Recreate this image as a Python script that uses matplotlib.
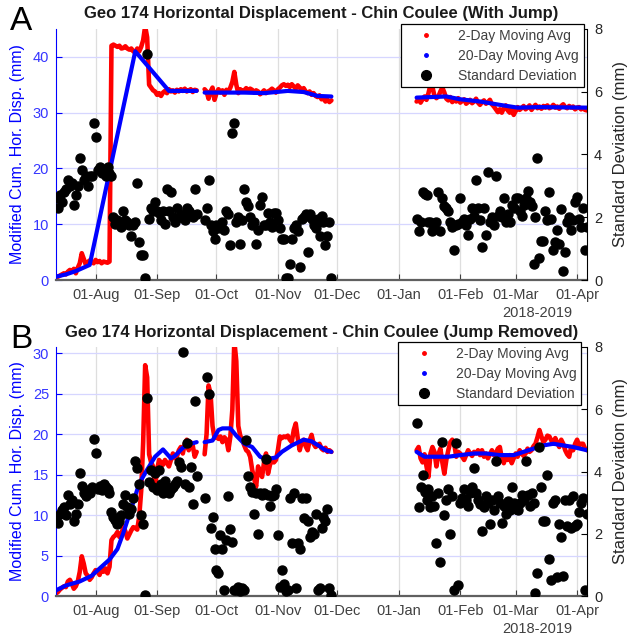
import pandas as pd
import matplotlib
matplotlib.use('Agg')
import matplotlib.pyplot as plt
import matplotlib.dates as mdates
from matplotlib.lines import Line2D

plt.rcParams['font.family'] = ['Liberation Sans', 'DejaVu Sans']

# three observation periods, one value per day from each start date
seg_starts = ['2018-07-12', '2018-09-25', '2019-01-10']

# ---------------- Panel A (with jump) ----------------
a_red = [
    [0.5, 0.6, 0.8, 1.0, 1.2, 1.0, 1.5, 1.8, 1.5, 2.0,
     1.2, 2.2, 3.0, 4.8, 3.8, 2.8, 3.2, 3.5, 3.2, 3.0,
     3.6, 3.2, 3.4, 3.0, 3.3, 3.2, 3.1, 3.3, 42.0, 42.2,
     42.0, 41.8, 42.0, 41.5, 41.6, 41.9, 41.5, 41.3, 41.5, 41.0,
     40.8, 41.5, 41.0, 41.8, 43.0, 45.5, 43.5, 35.0, 34.5, 34.0,
     33.8, 33.2, 33.5, 33.0, 33.6, 33.9, 33.5, 34.2, 33.8, 34.0,
     33.6, 34.1, 33.8, 34.2, 33.9, 34.3, 33.8, 34.0, 34.2, 33.7,
     34.1, 34.0],
    [34.2, 33.8, 32.5, 33.8, 34.5, 32.3, 33.5, 34.2, 33.6, 34.0,
     33.2, 34.1, 33.8, 34.5, 35.5, 37.3, 35.0, 33.5, 34.2, 33.8,
     34.0, 34.4, 33.9, 34.3, 34.1, 33.6, 34.0, 33.8, 33.3, 33.6,
     34.0, 33.5, 33.8, 34.0, 34.3, 34.0, 33.6, 34.2, 34.5, 34.9,
     35.1, 34.8, 35.0, 34.6, 35.1, 34.7, 34.3, 34.9, 34.5, 34.0,
     34.4, 33.8, 33.5, 33.8, 33.2, 33.5, 33.0, 32.8, 33.1, 32.4,
     32.6, 32.0, 32.3, 31.9, 32.2],
    [32.0, 32.5, 31.8, 32.4, 32.9, 32.3, 33.5, 35.0, 34.6, 33.0,
     32.6, 32.9, 33.8, 34.5, 33.6, 32.5, 32.2, 32.8, 31.9, 32.3,
     32.0, 32.6, 31.8, 32.1, 32.4, 31.6, 31.9, 32.3, 31.7, 32.0,
     32.5, 31.8, 31.4, 31.9, 32.2, 31.6, 31.9, 32.3, 31.5, 31.1,
     30.6, 30.1, 30.6, 30.0, 30.8, 31.3, 30.4, 30.0, 30.7, 29.6,
     30.3, 31.0, 30.5, 30.8, 31.2, 30.6, 30.9, 31.3, 30.5, 31.0,
     31.4, 30.8, 31.1, 30.7, 31.2, 30.9, 31.3, 30.8, 31.0, 31.4,
     30.9, 31.1, 30.7, 31.2, 31.5, 31.0, 30.8, 31.2, 30.9, 31.1,
     30.6, 30.9, 31.0, 30.6, 30.8, 30.5, 30.4],
]
a_blue_dates = [
    ['2018-07-12', '2018-07-17', '2018-07-22', '2018-07-29', '2018-08-21', '2018-09-07', '2018-09-21'],
    ['2018-09-25', '2018-10-15', '2018-10-25', '2018-11-06', '2018-11-14', '2018-11-21', '2018-11-28'],
    ['2019-01-10', '2019-01-25', '2019-02-01', '2019-02-11', '2019-02-21', '2019-03-02', '2019-03-13', '2019-04-06'],
]
a_blue = [
    [0.6, 1.0, 1.6, 2.7, 41.0, 33.9, 33.9],
    [33.6, 33.6, 33.5, 33.9, 33.7, 33.0, 32.9],
    [32.7, 32.9, 32.4, 32.0, 31.4, 30.9, 31.0, 30.9],
]
a_std = [
    [2.6, 2.3, 2.7, 2.5, 2.8, 2.9, 3.2, 3.0, 3.1, 2.4,
     2.7, 3.0, 3.9, 3.5, 3.2, 3.3, 3.0, 3.3, 3.3, 5.0,
     4.55, 3.5, 3.6, 3.4, 3.5, 3.3, 3.6, 3.4, 3.3, 2.0,
     1.8, 1.9, 1.85, 1.7, 2.2, 1.9, 1.85, 1.75, 1.4, 1.75,
     1.85, 3.1, 1.2, 0.8, 0.8, 0.05, 7.2, 1.95, 2.3, 2.2,
     2.5, 2.2, 2.15, 1.9, 2.2, 1.8, 2.9, 2.2, 2.8, 2.0,
     1.85, 2.3, 2.0, 2.0, 2.1, 1.9, 2.3, 2.2, 2.1, 2.0,
     2.9, 2.1],
    [1.9, 2.3, 3.2, 1.75, 1.55, 1.3, 1.75, 1.65, 1.75, 1.85,
     1.6, 2.2, 2.1, 1.1, 4.7, 5.0, 1.85, 2.0, 1.15, 1.9,
     2.9, 2.5, 2.35, 2.0, 1.75, 1.85, 1.15, 1.6, 2.4, 2.65,
     1.75, 1.75, 2.15, 1.85, 1.7, 2.15, 2.15, 1.9, 1.65, 1.3,
     1.3, 0.05, 0.05, 0.5, 1.3, 1.65, 1.75, 1.55, 0.4, 1.95,
     2.0, 2.1, 0.9, 2.1, 1.95, 1.75, 1.65, 1.95, 1.4, 2.05,
     1.85, 1.1, 1.4, 1.85, 0.05],
    [1.95, 1.55, 1.85, 2.8, 2.75, 2.7, 1.85, 1.85, 1.55, 1.7,
     1.85, 2.8, 1.55, 2.6, 2.35, 2.3, 2.2, 1.85, 1.7, 0.95,
     1.75, 1.8, 2.6, 1.85, 1.95, 1.75, 1.45, 1.95, 2.3, 2.05,
     3.2, 2.3, 1.9, 1.05, 2.3, 1.45, 3.45, 1.85, 2.0, 1.75,
     3.3, 2.05, 2.2, 2.0, 2.6, 1.85, 2.1, 1.85, 2.4, 2.3,
     2.6, 2.6, 2.2, 2.05, 2.4, 2.6, 2.85, 2.5, 2.35, 0.5,
     2.0, 3.9, 0.7, 1.25, 1.25, 2.2, 1.9, 2.8, 1.95, 0.95,
     1.2, 1.6, 1.15, 2.25, 0.3, 0.9, 1.85, 2.0, 1.6, 1.9,
     2.5, 2.65, 1.95, 1.7, 2.3, 0.95, 1.7],
]

# ---------------- Panel B (jump removed) ----------------
b_red = [
    [0.3, 0.5, 0.8, 1.0, 1.2, 1.1, 1.8, 2.0, 1.5, 0.9,
     1.2, 1.8, 3.0, 4.9, 4.0, 2.8, 2.5, 2.0, 2.3, 2.8,
     3.2, 3.0, 2.6, 3.4, 3.0, 3.4, 2.8, 3.6, 6.9, 7.3,
     7.5, 7.9, 7.3, 7.6, 8.6, 8.0, 7.1, 7.6, 8.1, 8.5,
     8.4, 8.2, 9.8, 13.0, 19.0, 28.5, 27.0, 17.5, 16.5, 16.0,
     13.5, 15.5, 16.8, 16.5, 16.2, 16.8, 16.4, 16.0, 16.8, 17.6,
     17.0, 17.2, 18.0, 18.4, 17.6, 18.8, 19.3, 18.0, 19.0, 18.6,
     17.2, 17.8],
    [17.5, 20.0, 26.0, 25.0, 21.0, 19.5, 19.8, 19.4, 19.7, 19.0,
     19.6, 19.3, 18.0, 19.7, 23.0, 31.5, 29.0, 21.0, 19.8, 19.3,
     18.6, 18.0, 17.8, 17.2, 15.6, 14.5, 13.5, 16.0, 15.2, 14.7,
     16.5, 17.6, 15.1, 16.2, 16.8, 16.5, 16.8, 18.0, 19.7, 19.5,
     19.7, 19.6, 19.8, 19.3, 19.0, 20.5, 21.3, 19.5, 18.0, 19.0,
     19.3, 18.5, 18.0, 19.2, 19.9, 18.8, 18.4, 18.6, 18.8, 18.2,
     18.0, 18.3, 17.8, 18.0, 17.8],
    [18.0, 18.4, 17.0, 16.5, 17.5, 16.0, 14.7, 17.6, 18.4, 17.8,
     16.0, 17.5, 18.2, 16.5, 15.1, 16.8, 18.0, 19.0, 19.3, 18.8,
     17.2, 17.8, 17.6, 17.2, 16.8, 17.4, 18.0, 17.6, 17.3, 17.8,
     17.6, 18.0, 17.4, 18.0, 17.2, 17.6, 17.0, 17.5, 18.0, 17.4,
     17.6, 18.2, 18.4, 17.0, 16.4, 17.2, 16.8, 17.4, 16.4, 17.0,
     17.6, 17.2, 18.0, 17.6, 17.3, 17.6, 18.2, 17.8, 18.0, 18.5,
     18.8, 19.6, 20.5, 19.7, 19.0, 19.3, 19.8, 19.7, 19.2, 18.8,
     19.5, 18.9, 18.4, 19.3, 18.8, 18.0, 17.5, 17.2, 18.4, 18.0,
     18.8, 19.3, 18.6, 18.8, 18.8, 18.2, 18.0],
]
b_blue_dates = [
    ['2018-07-12', '2018-07-17', '2018-07-24', '2018-07-30', '2018-08-03', '2018-08-08', '2018-08-12',
     '2018-08-15', '2018-08-19', '2018-08-23', '2018-08-27', '2018-08-31', '2018-09-04', '2018-09-08',
     '2018-09-10', '2018-09-14', '2018-09-18', '2018-09-21'],
    ['2018-09-25', '2018-09-29', '2018-10-02', '2018-10-04', '2018-10-08', '2018-10-11', '2018-10-15',
     '2018-10-19', '2018-10-23', '2018-10-26', '2018-10-31', '2018-11-03', '2018-11-08', '2018-11-14',
     '2018-11-18', '2018-11-22', '2018-11-25', '2018-11-28'],
    ['2019-01-10', '2019-01-14', '2019-01-20', '2019-01-26', '2019-02-01', '2019-02-08', '2019-02-14',
     '2019-02-21', '2019-02-28', '2019-03-05', '2019-03-10', '2019-03-15', '2019-03-20', '2019-03-25',
     '2019-03-30', '2019-04-06'],
]
b_blue = [
    [0.7, 1.3, 1.8, 2.5, 3.4, 4.5, 5.8, 7.8, 10.8, 13.9, 15.6, 17.2, 18.1, 17.0, 17.3, 18.3, 18.8, 19.0],
    [19.0, 19.2, 20.5, 20.7, 20.7, 19.8, 18.8, 18.4, 17.2, 16.9, 17.1, 17.8, 18.6, 19.3, 19.1, 18.5, 18.0, 17.8],
    [17.8, 17.2, 17.2, 17.2, 17.4, 17.6, 17.6, 17.4, 17.4, 17.8, 18.2, 18.6, 18.8, 18.6, 18.4, 18.0],
]
b_std = [
    [2.55, 2.35, 2.65, 2.75, 2.85, 2.6, 3.25, 2.95, 3.1, 2.4,
     2.65, 2.95, 3.95, 3.55, 3.3, 3.2, 3.4, 3.3, 3.5, 5.05,
     4.6, 3.45, 3.55, 3.4, 3.6, 3.5, 3.45, 3.3, 2.7, 2.55,
     2.45, 2.3, 2.4, 2.6, 2.95, 3.25, 2.85, 2.65, 2.8, 3.15,
     4.35, 4.1, 3.6, 2.6, 2.3, 0.03, 6.35, 3.65, 4.05, 3.5,
     3.95, 3.4, 4.05, 3.6, 3.3, 3.7, 3.5, 3.3, 3.45, 3.5,
     3.6, 3.7, 4.3, 4.15, 7.85, 3.6, 4.9, 3.5, 4.15, 2.95,
     6.25, 3.85],
    [3.15, 7.05, 6.5, 2.2, 2.55, 1.5, 0.85, 0.75, 1.95, 1.5,
     0.2, 1.8, 3.2, 2.15, 1.75, 0.2, 0.2, 0.3, 0.15, 0.25,
     0.2, 5.0, 3.85, 3.5, 3.35, 2.65, 3.3, 2.0, 3.3, 3.25,
     3.3, 4.4, 3.25, 2.9, 3.2, 3.25, 3.45, 1.95, 0.3, 0.85,
     0.4, 0.15, 0.2, 3.15, 1.7, 3.3, 0.25, 1.7, 1.5, 3.15,
     2.5, 3.15, 2.4, 1.9, 2.05, 2.0, 2.65, 0.2, 0.25, 2.2,
     2.55, 2.4, 2.8, 0.25, 0.03],
    [5.55, 2.85, 3.5, 3.9, 3.35, 3.1, 3.45, 2.85, 3.2, 2.9,
     1.7, 3.3, 1.1, 4.95, 2.6, 3.1, 3.45, 2.0, 3.2, 0.2,
     4.9, 0.35, 3.0, 3.15, 3.45, 3.1, 2.9, 3.3, 3.5, 4.1,
     3.3, 3.1, 2.95, 2.1, 2.85, 3.2, 3.0, 2.3, 3.1, 2.75,
     4.35, 3.2, 3.0, 2.35, 2.9, 2.65, 3.05, 2.75, 3.5, 3.0,
     2.8, 2.75, 3.0, 3.25, 3.1, 4.35, 3.25, 2.9, 3.3, 3.0,
     0.1, 0.75, 4.8, 3.5, 2.4, 2.4, 3.9, 1.2, 0.5, 3.0,
     3.1, 0.6, 2.3, 1.9, 0.65, 3.1, 2.25, 3.1, 2.2, 3.2,
     2.25, 2.3, 2.7, 3.0, 3.15, 0.2, 2.65],
]

x_range = ('2018-07-12', '2019-04-06')
label_gray = '#404040'


def draw_panel(fig, rect, red, blue_dates, blue, std, ylim, yticks, title, letter, leg_anchor):
    ax = fig.add_axes(rect)
    ax2 = ax.twinx()

    for start, vals in zip(seg_starts, red):
        days = pd.date_range(start, periods=len(vals), freq='D')
        ax.plot(days, vals, color='red', lw=3.3, solid_joinstyle='round', solid_capstyle='round')
    for dates, vals in zip(blue_dates, blue):
        ax.plot(pd.to_datetime(dates), vals, color='blue', lw=3.0, solid_capstyle='round')
    for start, vals in zip(seg_starts, std):
        days = pd.date_range(start, periods=len(vals), freq='D')
        ax2.plot(days, vals, 'o', color='black', ms=6.5, ls='none')

    ax.set_xlim(pd.Timestamp(x_range[0]), pd.Timestamp(x_range[1]))
    ax.set_ylim(*ylim)
    ax.set_yticks(yticks)
    ax2.set_ylim(0, 8)
    ax2.set_yticks([0, 2, 4, 6, 8])

    ax.xaxis.set_major_locator(mdates.MonthLocator())
    ax.xaxis.set_major_formatter(mdates.DateFormatter('%d-%b'))

    # grid: blue horizontal lines, grey vertical lines
    ax.set_axisbelow(True)
    ax.grid(axis='y', color='#d6d6ff', lw=0.9)
    ax.grid(axis='x', color='#dedede', lw=0.9)

    for a in (ax, ax2):
        a.spines['top'].set_visible(False)
    ax.spines['right'].set_visible(False)
    ax2.spines['left'].set_visible(False)
    ax2.spines['bottom'].set_visible(False)
    ax.spines['left'].set_color('blue')
    ax.spines['bottom'].set_color('#606060')
    ax.spines['bottom'].set_linewidth(1.6)
    ax2.spines['right'].set_color('black')

    ax.tick_params(axis='x', direction='in', colors=label_gray, labelsize=10.5, length=4, pad=6)
    ax.tick_params(axis='y', direction='in', colors='blue', labelsize=10.5, length=4, pad=5)
    ax.tick_params(axis='y', labelcolor='#3535ff')
    ax2.tick_params(axis='y', direction='in', colors='black', labelcolor='#262626', labelsize=10.5, length=4, pad=5)

    ax.set_ylabel('Modified Cum. Hor. Disp. (mm)', color='blue', fontsize=11.5)
    ax.yaxis.set_label_coords(-0.058, 0.5)
    ax2.set_ylabel('Standard Deviation (mm)', color='#262626', fontsize=12)
    ax2.yaxis.set_label_coords(1.049, 0.5)

    handles = [
        Line2D([], [], marker='.', color='red', ls='none', ms=5),
        Line2D([], [], marker='.', color='blue', ls='none', ms=5),
        Line2D([], [], marker='o', color='black', ls='none', ms=7),
    ]
    leg = ax2.legend(handles, ['2-Day Moving Avg', '20-Day Moving Avg', 'Standard Deviation'],
                     loc='upper right', bbox_to_anchor=leg_anchor, borderaxespad=0,
                     fontsize=10, frameon=True, fancybox=False, framealpha=1,
                     edgecolor='black', handlelength=3.0, handletextpad=0.8,
                     borderpad=0.35, labelspacing=0.42)
    leg.get_frame().set_linewidth(0.9)
    for t in leg.get_texts():
        t.set_color(label_gray)

    x0, y0, w, h = rect
    fig.text(x0 + w / 2, y0 + h + 15 / 641, title, ha='center', va='center',
             fontsize=12, fontweight='bold', color='#1a1a1a')
    fig.text(10 / 629, y0 + h + 8 / 641, letter, ha='left', va='center', fontsize=24, color='black')
    fig.text(537 / 629, y0 - 33 / 641, '2018-2019', ha='center', va='center', fontsize=10.5, color=label_gray)
    return ax, ax2


fig = plt.figure(figsize=(6.29, 6.41), dpi=100)

draw_panel(fig, [56 / 629, 361 / 641, 531 / 629, 251 / 641], a_red, a_blue_dates, a_blue, a_std,
           (0, 45), [0, 10, 20, 30, 40],
           'Geo 174 Horizontal Displacement - Chin Coulee (With Jump)', 'A', (0.994, 1.02))
draw_panel(fig, [56 / 629, 45 / 641, 531 / 629, 249 / 641], b_red, b_blue_dates, b_blue, b_std,
           (0, 30.75), [0, 5, 10, 15, 20, 25, 30],
           'Geo 174 Horizontal Displacement - Chin Coulee (Jump Removed)', 'B', (0.989, 1.02))

fig.savefig('out.png', dpi=100)
